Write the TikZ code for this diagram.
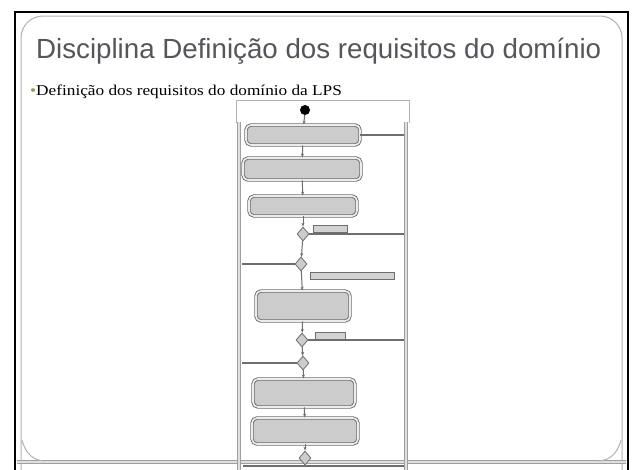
\documentclass[tikz,border=0pt]{standalone}
\usepackage{fontspec}
\setmainfont{Liberation Serif}
\newfontfamily\titlefont{Liberation Sans}
\usetikzlibrary{shapes.geometric,arrows.meta}
\definecolor{titlegray}{HTML}{55565C}
\definecolor{railgray}{HTML}{6E6E6E}
\definecolor{bulletgreen}{HTML}{8AA04A}
\tikzset{
  actbox/.style={draw=railgray, double=gray!15, double distance=1.6pt, line width=0.9pt,
    rounded corners=5pt, fill=gray!40, minimum height=#1, inner sep=0pt},
  actbox/.default=20pt,
  dec/.style={draw=railgray, fill=gray!40, diamond, minimum width=12pt, minimum height=14pt, inner sep=0pt, line width=0.8pt},
  lbl/.style={draw=railgray, fill=gray!35, minimum height=7pt, inner sep=0pt, line width=0.6pt},
  flow/.style={draw=railgray, line width=1pt, -{Stealth[length=4pt]}},
  link/.style={draw=railgray, line width=1.2pt},
  rail/.style={draw=gray!75, double=gray!25, double distance=2pt, line width=1pt}
}
\begin{document}
\begin{tikzpicture}[x=1pt,y=-1pt]
\useasboundingbox (0,0) rectangle (632,469);
\fill[white] (0,0) rectangle (632,469);
% slide frame
\draw[black, line width=2pt] (15,470) -- (15,12) -- (628,12) -- (628,470);
\draw[gray!60, line width=1pt, rounded corners=22pt] (21,470) -- (21,16) -- (622,16) -- (622,470);
\draw[rail] (17,462) -- (626,462);
\draw[gray!60, line width=1pt] (22,440) .. controls (26,455) and (34,460) .. (44,461);
\draw[gray!60, line width=1pt] (621,440) .. controls (617,455) and (609,460) .. (599,461);
% title
\node[anchor=west, text=titlegray, font=\titlefont\fontsize{27.7}{32}\selectfont, inner sep=0pt] (title) at (36,51) {Disciplina Definição dos requisitos do domínio};
\node[anchor=west, inner sep=0pt] (bullet) at (30,92) {\scalebox{1.15}[1]{\fontsize{15}{18}\selectfont\textcolor{bulletgreen}{\textbullet}Definição dos requisitos do domínio da LPS}};
% flowchart frame and rails
\draw[gray!60, line width=0.8pt] (236,123) -- (236,100) -- (409,100) -- (409,123);
\draw[rail] (239,122) -- (239,470);
\draw[rail] (406,122) -- (406,470);
\coordinate (r1) at (404,137);
\coordinate (r2) at (404,237);
\coordinate (r3) at (404,340);
\coordinate (l1) at (242,264);
\coordinate (l2) at (242,362);
% nodes
\node[circle, fill=black, minimum size=10pt, inner sep=0pt] (start) at (305,110) {};
\node[actbox=20pt, minimum width=114pt] (a1) at (303,135) {};
\node[actbox=22pt, minimum width=118pt] (a2) at (302,169) {};
\node[actbox=20pt, minimum width=108pt] (a3) at (303,206) {};
\node[dec] (d1) at (303,234) {};
\node[lbl, minimum width=34pt] (t1) at (330,229) {};
\node[dec] (d2) at (301,264) {};
\node[lbl, minimum width=84pt] (t2) at (352,276) {};
\node[actbox=30pt, minimum width=94pt] (a4) at (303,306) {};
\node[dec] (d3) at (302,340) {};
\node[lbl, minimum width=30pt] (t3) at (330,336) {};
\node[dec] (d4) at (303,363) {};
\node[actbox=28pt, minimum width=102pt] (a5) at (304,393) {};
\node[actbox=26pt, minimum width=106pt] (a6) at (305,431) {};
\node[dec] (d5) at (305,458) {};
% connectors
\draw[flow] (start) -- (a1);
\draw[flow] (a1) -- (a2);
\draw[flow] (a2) -- (a3);
\draw[flow] (a3) -- (d1);
\draw[flow] (d1) -- (d2);
\draw[flow] (d2) -- (a4);
\draw[flow] (a4) -- (d3);
\draw[flow] (d3) -- (d4);
\draw[flow] (d4) -- (a5);
\draw[flow] (a5) -- (a6);
\draw[flow] (a6) -- (d5);
\draw[link] (a1.east) -- (a1.east -| r1);
\draw[link] (d1.east) -- (d1.east -| r2);
\draw[link] (d2.west -| l1) -- (d2.west);
\draw[link] (d3.east) -- (d3.east -| r3);
\draw[link] (d4.west -| l2) -- (d4.west);
\draw[link] (243,466) -- (404,466);
\end{tikzpicture}
\end{document}
